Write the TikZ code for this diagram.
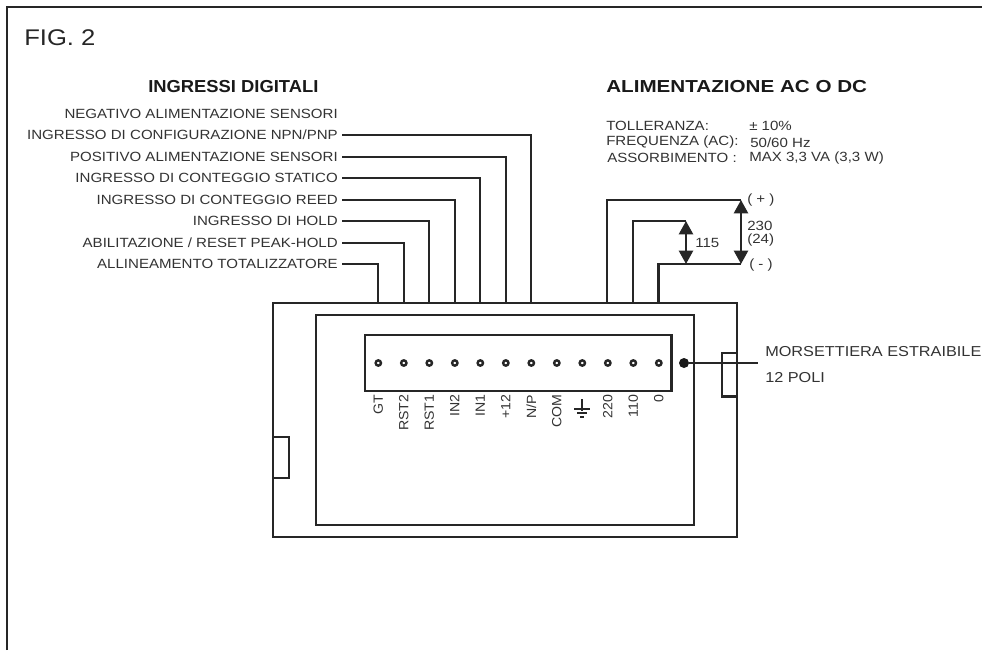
\documentclass[tikz,border=0pt]{standalone}
\usepackage{fontspec}
\setmainfont{Liberation Sans}[FakeStretch=1.13]
\newfontfamily\headA{Liberation Sans}[FakeStretch=1.19]
\newfontfamily\headB{Liberation Sans}[FakeStretch=1.06]
\usetikzlibrary{arrows.meta}
\tikzset{
 px/.style={x=0.75pt,y=-0.75pt},
 wire/.style={line width=1.7pt,draw=black!85},
 thick box/.style={line width=1.7pt,draw=black!85},
 lab/.style={font=\fontsize{10}{12}\selectfont,text=black!80,inner sep=0pt},
 biglab/.style={font=\fontsize{10.8}{12}\selectfont,text=black!80,inner sep=0pt,anchor=west},
 leftlab/.style={lab,anchor=east},
 pin/.style={circle,draw=black!85,line width=1.8pt,fill=white,minimum size=4pt,inner sep=0pt},
 vlab/.style={lab,font=\fontsize{10}{12}\headB,rotate=90,anchor=east},
 gnd/.style={line width=1.6pt,draw=black!85},
 dim/.style={line width=1.8pt,draw=black!85,{Triangle[length=10pt,width=10.5pt]}-{Triangle[length=10pt,width=10.5pt]}}
}
\begin{document}
\begin{tikzpicture}[px]
\useasboundingbox (0,0) rectangle (982,650);
\fill[white] (0,0) rectangle (982,650);
\draw[thick box] (7,650) -- (7,7) -- (982,7);
\node[inner sep=0pt,anchor=west,text=black!85,font=\fontsize{17}{19}\selectfont] (fig) at (24,38) {FIG. 2};
\node[inner sep=0pt,anchor=west,text=black!90,font=\fontsize{13}{15}\headB\bfseries] (h1) at (148,87) {INGRESSI DIGITALI};
\node[inner sep=0pt,anchor=west,text=black!90,font=\fontsize{13}{15}\headA\bfseries] (h2) at (606,87) {ALIMENTAZIONE AC O DC};
% left labels
\node[leftlab] (l0) at (338,114) {NEGATIVO ALIMENTAZIONE SENSORI};
\node[leftlab] (l7) at (338,135) {INGRESSO DI CONFIGURAZIONE NPN/PNP};
\node[leftlab] (l6) at (338,157) {POSITIVO ALIMENTAZIONE SENSORI};
\node[leftlab] (l5) at (338,178) {INGRESSO DI CONTEGGIO STATICO};
\node[leftlab] (l4) at (338,200) {INGRESSO DI CONTEGGIO REED};
\node[leftlab] (l3) at (338,221) {INGRESSO DI HOLD};
\node[leftlab] (l2) at (338,243) {ABILITAZIONE / RESET PEAK-HOLD};
\node[leftlab] (l1) at (338,264) {ALLINEAMENTO TOTALIZZATORE};
% specs
\node[lab,anchor=west] (s1) at (606,126) {TOLLERANZA:};
\node[lab,anchor=west] (s2) at (606,142.5) {FREQUENZA (AC):};
\node[lab,anchor=west] (s3) at (607,158) {ASSORBIMENTO :};
\node[lab,anchor=west] (v1) at (749,126) {± 10\%};
\node[lab,anchor=west] (v2) at (750,142.5) {50/60 Hz};
\node[lab,anchor=west] (v3) at (749,158) {MAX 3,3 VA (3,3 W)};
% housing
\draw[thick box] (273,303) rectangle (737,537);
\draw[thick box] (316,315) rectangle (694,525);
\draw[thick box] (365,335) rectangle (671.5,391);
\draw[thick box] (722,353) rectangle (737,396.5);
\draw[thick box] (273,437) rectangle (289,478);
% pins
\foreach \n/\x/\t in {1/378.3/GT,2/403.8/RST2,3/429.3/RST1,4/454.8/IN2,5/480.3/IN1,6/505.8/+12,7/531.3/N\slash P,8/556.8/COM,10/607.8/220,11/633.3/110,12/658.8/0}{
  \node[pin] (p\n) at (\x,363) {};
  \node[vlab] (t\n) at (\x,394.5) {\t};
}
\node[pin] (p9) at (582.3,363) {};
% wires
\coordinate (e1) at (378.3,303);
\coordinate (e2) at (403.8,303);
\coordinate (e3) at (429.3,303);
\coordinate (e4) at (454.8,303);
\coordinate (e5) at (480.3,303);
\coordinate (e6) at (505.8,303);
\coordinate (e7) at (531.3,303);
\draw[wire] (l1.east)++(4,0) -| (e1);
\draw[wire] (l2.east)++(4,0) -| (e2);
\draw[wire] (l3.east)++(4,0) -| (e3);
\draw[wire] (l4.east)++(4,0) -| (e4);
\draw[wire] (l5.east)++(4,0) -| (e5);
\draw[wire] (l6.east)++(4,0) -| (e6);
\draw[wire] (l7.east)++(4,0) -| (e7);
% power
\coordinate (pa) at (607.3,303);
\coordinate (pb) at (633,303);
\coordinate (pc) at (658.5,303);
\coordinate (plus) at (741,200);
\coordinate (minus) at (741,264);
\coordinate (mid) at (686,221);
\coordinate (midb) at (686,264);
\draw[wire] (pa) |- (plus);
\draw[wire] (pb) |- (mid);
\draw[wire] (pc) |- (minus);
\draw[dim] (plus) -- (minus);
\draw[dim] (mid) -- (midb);
\node[lab,anchor=west] (plusl) at (747,200) {( + )};
\node[lab,anchor=west] (minusl) at (749,265) {( - )};
\node[lab,anchor=west] (v230) at (747,226) {230};
\node[lab,anchor=west] (v24) at (747,240) {(24)};
\node[lab,anchor=west] (v115) at (695,243) {115};
% morsettiera
\node[circle,fill=black!90,minimum size=7.5pt,inner sep=0pt] (big) at (684,363) {};
\coordinate (mend) at (758,363);
\draw[line width=1.3pt,draw=black!85] (big) -- (mend);
\node[biglab] (m1) at (765,352) {MORSETTIERA ESTRAIBILE};
\node[biglab] (m2) at (765,378) {12 POLI};
% ground
\coordinate (g) at (582.3,399);
\draw[gnd] (g) -- ++(0,12);
\draw[gnd] (g)++(-8,10) -- ++(16,0);
\draw[gnd] (g)++(-5,14) -- ++(10,0);
\draw[gnd] (g)++(-2,18) -- ++(4,0);
\end{tikzpicture}
\end{document}
